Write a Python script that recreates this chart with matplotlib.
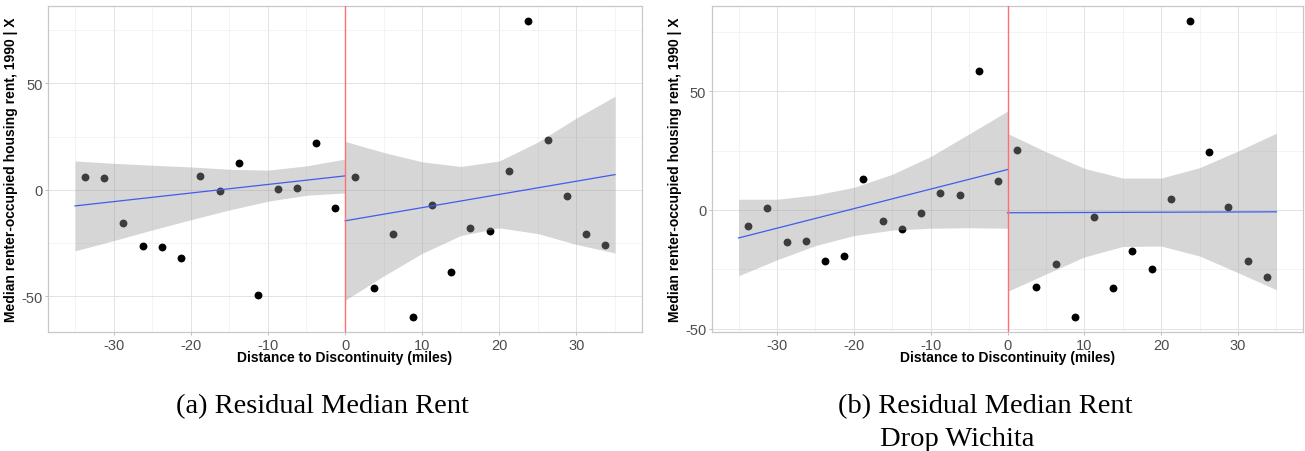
import numpy as np
import matplotlib.pyplot as plt
from matplotlib.ticker import MultipleLocator

# --- Binned residuals (bin centres in miles from the border) ---
bins_left = [-33.75, -31.25, -28.75, -26.25, -23.75, -21.25, -18.75,
             -16.25, -13.75, -11.25, -8.75, -6.25, -3.75, -1.25]
bins_right = [1.25, 3.75, 6.25, 8.75, 11.25, 13.75, 16.25,
              18.75, 21.25, 23.75, 26.25, 28.75, 31.25, 33.75]

# (a) all counties
rent_a_left = [6.1, 5.5, -15.3, -26.2, -26.9, -31.9, 6.6,
               -0.3, 12.8, -49.2, 0.5, 1.1, 21.9, -8.7]
rent_a_right = [6.1, -46.2, -20.9, -59.8, -7.3, -38.4, -18.0,
                -19.4, 9.1, 79.4, 23.4, -2.8, -20.9, -25.8]

# (b) Wichita dropped
rent_b_left = [-6.8, 1.0, -13.3, -12.9, -21.4, -19.5, 12.9,
               -4.5, -8.0, -1.1, 7.0, 6.3, 58.4, 12.1]
rent_b_right = [25.2, -32.6, -22.9, -45.2, -2.8, -32.9, -17.2,
                -25.0, 4.5, 79.6, 24.4, 1.4, -21.7, -28.3]

# --- Linear fits on each side (endpoints) and 95% bands ---
fit_x_left = [-35, 0]
fit_x_right = [0, 35]
fit_a_left = [-7.5, 6.6]
fit_a_right = [-14.5, 7.2]
fit_b_left = [-11.8, 17.0]
fit_b_right = [-1.2, -0.8]

band_x_left = [-35, -30, -25, -20, -15, -10, -5, 0]
band_x_right = [0, 5, 10, 15, 20, 25, 30, 35]
band_a_left_hi = [13.6, 12.5, 11.6, 10.8, 9.7, 9.3, 11.3, 14.5]
band_a_left_lo = [-28.6, -23.8, -18.8, -14.0, -9.4, -5.3, -2.5, -1.4]
band_a_right_hi = [22.8, 17.6, 13.2, 11.0, 13.6, 22.5, 33.8, 44.0]
band_a_right_lo = [-51.8, -40.4, -29.8, -21.4, -17.8, -20.5, -25.6, -29.6]
band_b_left_hi = [4.5, 4.5, 6.3, 9.5, 15.0, 22.5, 32.0, 41.6]
band_b_left_lo = [-27.7, -21.0, -15.0, -10.8, -8.5, -7.7, -7.5, -7.7]
band_b_right_hi = [32.2, 24.5, 17.5, 13.4, 13.4, 17.8, 24.8, 32.3]
band_b_right_lo = [-34.3, -27.0, -19.8, -15.4, -15.2, -19.4, -26.4, -33.6]

x_label = "Distance to Discontinuity (miles)"
y_label = "Median renter-occupied housing rent, 1990 | X"

plt.rcParams["font.family"] = ["Liberation Sans", "DejaVu Sans"]
plt.rcParams["axes.unicode_minus"] = False

fig = plt.figure(figsize=(13.05, 4.52), dpi=100)
ax_a = fig.add_axes([0.0368, 0.263, 0.4552, 0.7215])
ax_b = fig.add_axes([0.5454, 0.263, 0.4533, 0.7215])


def draw_panel(ax, left_y, right_y, fit_l, fit_r, lo_l, hi_l, lo_r, hi_r):
    # points first, ribbon on top (ggplot-style)
    ax.scatter(bins_left, left_y, s=32, color="black", zorder=2, linewidths=0)
    ax.scatter(bins_right, right_y, s=32, color="black", zorder=2, linewidths=0)
    ax.fill_between(band_x_left, lo_l, hi_l, color="#999999", alpha=0.4,
                    linewidth=0, zorder=3)
    ax.fill_between(band_x_right, lo_r, hi_r, color="#999999", alpha=0.4,
                    linewidth=0, zorder=3)
    ax.plot(fit_x_left, fit_l, color="#3f5cf0", linewidth=0.9, zorder=4)
    ax.plot(fit_x_right, fit_r, color="#3f5cf0", linewidth=0.9, zorder=4)
    ax.axvline(0, color="#ff6f6f", linewidth=1.0, zorder=5)

    ax.margins(x=0.05, y=0.05)
    ax.xaxis.set_major_locator(MultipleLocator(10))
    ax.xaxis.set_minor_locator(MultipleLocator(5))
    ax.yaxis.set_major_locator(MultipleLocator(50))
    ax.yaxis.set_minor_locator(MultipleLocator(25))
    ax.grid(which="major", color="#e3e3e3", linewidth=0.7, zorder=0)
    ax.grid(which="minor", color="#f0f0f0", linewidth=0.5, zorder=0)
    ax.set_axisbelow(True)
    for sp in ax.spines.values():
        sp.set_color("#c8c8c8")
        sp.set_linewidth(0.9)
    ax.tick_params(which="major", length=2.5, width=0.6, color="#b3b3b3",
                   labelcolor="#4d4d4d", labelsize=10.5, pad=1.5)
    ax.tick_params(which="minor", length=0)
    ax.set_xlabel(x_label, fontsize=10, fontweight="bold", labelpad=-1)
    ax.set_ylabel(y_label, fontsize=10, fontweight="bold", labelpad=2)


draw_panel(ax_a, rent_a_left, rent_a_right, fit_a_left, fit_a_right,
           band_a_left_lo, band_a_left_hi, band_a_right_lo, band_a_right_hi)
draw_panel(ax_b, rent_b_left, rent_b_right, fit_b_left, fit_b_right,
           band_b_left_lo, band_b_left_hi, band_b_right_lo, band_b_right_hi)

# sub-figure captions
cap_kw = dict(fontsize=20.5, family="Liberation Serif", va="baseline", ha="left")
fig.text(176 / 1305, 1 - 413 / 452, "(a) Residual Median Rent", **cap_kw)
fig.text(838 / 1305, 1 - 413 / 452, "(b) Residual Median Rent", **cap_kw)
fig.text(880 / 1305, 1 - 446 / 452, "Drop Wichita", **cap_kw)

fig.savefig("out.png", dpi=100)
